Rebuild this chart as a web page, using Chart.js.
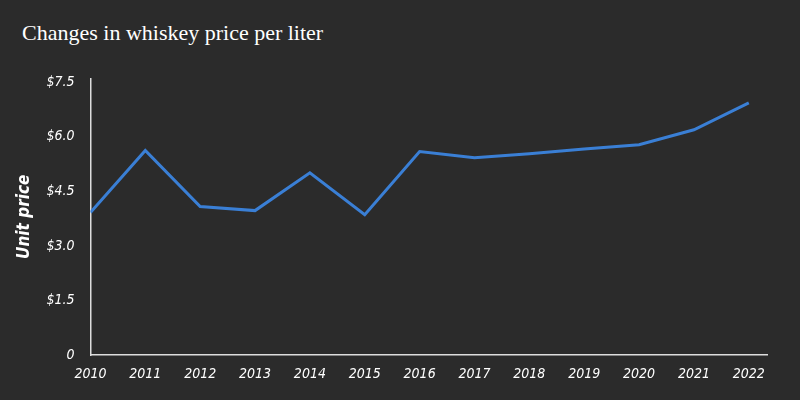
<!DOCTYPE html>
<html>
<head>
<meta charset="utf-8">
<script src="https://cdn.jsdelivr.net/npm/chart.js@4"></script>
<style>
  html, body { margin: 0; padding: 0; background: #2b2b2b; }
  #wrap { width: 800px; height: 400px; position: relative; }
  h1 { position: absolute; left: 22px; top: 20px; margin: 0; color: #fff;
       font: 22px "Liberation Serif", serif; font-weight: normal; }
  #box { position: absolute; left: 10px; top: 62px; width: 758px; height: 324px; }
</style>
</head>
<body>
<div id="wrap">
  <h1>Changes in whiskey price per liter</h1>
  <div id="box"><canvas id="chart"></canvas></div>
</div>
<script>
// values
const years = [2010, 2011, 2012, 2013, 2014, 2015, 2016, 2017, 2018, 2019, 2020, 2021, 2022];
const prices = [3.92, 5.62, 4.08, 3.97, 5.01, 3.86, 5.59, 5.42, 5.53, 5.66, 5.78, 6.19, 6.93];
const yTicks = [0, 1.5, 3.0, 4.5, 6.0, 7.5];

const tickFont = { family: "'Liberation Sans Narrow', 'DejaVu Sans Condensed', sans-serif", size: 14, style: "italic" };

new Chart(document.getElementById("chart"), {
  type: "line",
  data: {
    datasets: [{
      data: years.map((y, i) => ({ x: y, y: prices[i] })),
      borderColor: "#3a7fd5",
      borderWidth: 3,
      pointRadius: 0,
      tension: 0,
      fill: false
    }]
  },
  options: {
    responsive: true,
    maintainAspectRatio: false,
    animation: false,
    plugins: { legend: { display: false }, tooltip: { enabled: false } },
    scales: {
      x: {
        type: "linear",
        min: 2010, max: 2022.35,
        afterBuildTicks: ax => { ax.ticks = years.map(v => ({ value: v })); },
        ticks: { color: "#fff", font: tickFont, maxRotation: 0, autoSkip: false, callback: v => String(v) },
        grid: { display: false },
        border: { color: "#ddd", width: 1.5 }
      },
      y: {
        min: 0, max: 7.6,
        afterBuildTicks: ax => { ax.ticks = yTicks.map(v => ({ value: v })); },
        ticks: { color: "#fff", font: tickFont, padding: 8,
                 callback: v => v === 0 ? "0" : "$" + v.toFixed(1) },
        grid: { display: false },
        border: { color: "#ddd", width: 1.5 },
        title: { display: true, text: "Unit price", color: "#fff",
                 font: { family: tickFont.family, size: 17, style: "italic", weight: "bold" } }
      }
    }
  }
});
</script>
</body>
</html>
